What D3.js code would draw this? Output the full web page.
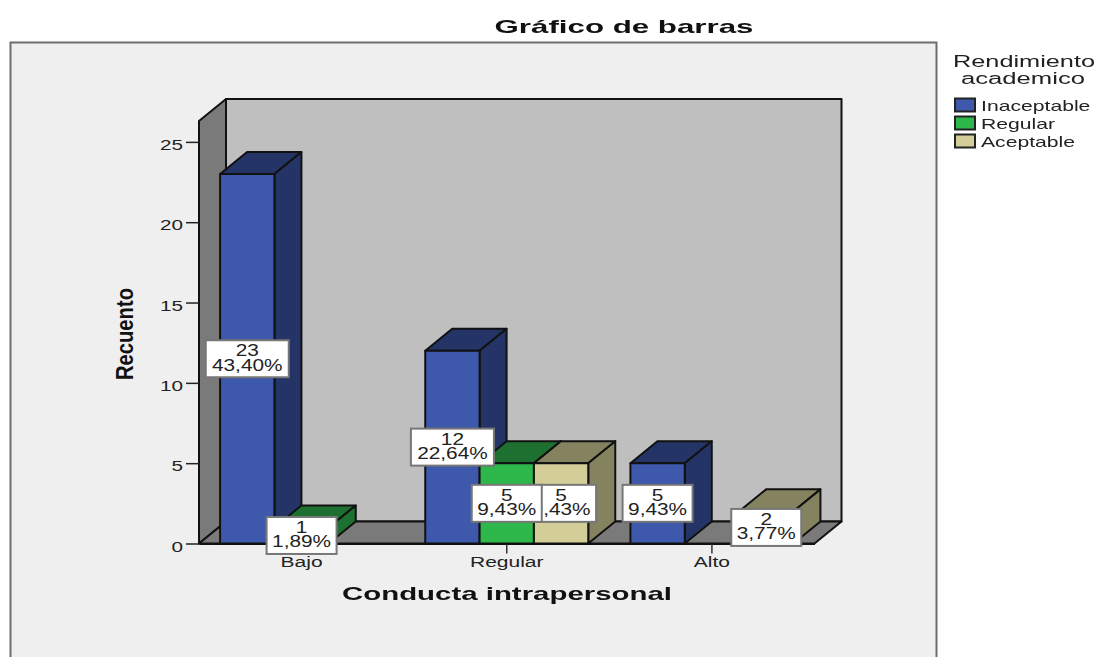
<!DOCTYPE html>
<html>
<head>
<meta charset="utf-8">
<script src="https://cdn.jsdelivr.net/npm/d3@7"></script>
<style>
  html, body { margin: 0; background: #fff; }
  svg { display: block; font-family: "Liberation Sans", Arial, sans-serif; fill: #1a1a1a; filter: blur(0.4px); }
</style>
</head>
<body>
<svg id="chart" width="1097" height="657"></svg>
<script>
const categories = ['Bajo', 'Regular', 'Alto'];
const seriesNames = ['Inaceptable', 'Regular', 'Aceptable'];
const inaceptable = [23, 12, 5];
const regular = [1, 5, null];
const aceptable = [null, 5, 2];
const inaceptablePct = ['43,40%', '22,64%', '9,43%'];
const regularPct = ['1,89%', '9,43%', null];
const aceptablePct = [null, '9,43%', '3,77%'];
const yTicks = [0, 5, 10, 15, 20, 25];

const colors = [
  { front: '#3e58ac', side: '#253466' },
  { front: '#2eb84b', side: '#1d7030' },
  { front: '#d3ce97', side: '#85825f' },
];

const depth = { x: 27, y: 22 };
const plot = { left: 199, right: 814.5, bottom: 543.5, top: 121 };

const svg = d3.select('#chart');

const rows = [
  { values: inaceptable, pct: inaceptablePct },
  { values: regular, pct: regularPct },
  { values: aceptable, pct: aceptablePct },
];

const x = d3.scaleBand().domain(categories).range([plot.left, plot.right]);
const xInner = d3.scaleBand().domain(d3.range(3)).range([x.bandwidth() / 2 - 81.5, x.bandwidth() / 2 + 81.5]);
const y = d3.scaleLinear().domain([0, 26.3]).range([plot.bottom, plot.top]);

const points = d3.merge(rows.map((row, s) =>
  categories.map((cat, c) => ({ cat, s, value: row.values[c], pct: row.pct[c] })).filter(d => d.value !== null)
));

// stretch text horizontally, the reference image is wider than it is tall
const stretch = (sel, k) =>
  sel.each(function() {
    const len = this.getComputedTextLength();
    d3.select(this).attr('textLength', len * k).attr('lengthAdjust', 'spacingAndGlyphs');
  });

const fitWidth = (sel, w) => sel.attr('textLength', w).attr('lengthAdjust', 'spacingAndGlyphs');

const pathOf = pts => 'M' + pts.map(p => p.join(',')).join('L') + 'Z';

const drawFrame = () => {
  svg.append('rect')
    .attr('x', 10.5).attr('y', 42.5).attr('width', 926).attr('height', 640)
    .attr('fill', '#efefef').attr('stroke', '#6e6e6e').attr('stroke-width', 2);
};

const drawWalls = () => {
  const { left, right, bottom, top } = plot;
  const back = svg.append('g').attr('stroke', '#111').attr('stroke-width', 2).attr('stroke-linejoin', 'round');
  back.append('path').attr('fill', '#bfbfbf').attr('d', pathOf([
    [left + depth.x, top - depth.y], [right + depth.x, top - depth.y],
    [right + depth.x, bottom - depth.y], [left + depth.x, bottom - depth.y],
  ]));
  back.append('path').attr('fill', '#7a7a7a').attr('d', pathOf([
    [left, top], [left + depth.x, top - depth.y], [left + depth.x, bottom - depth.y], [left, bottom],
  ]));
  back.append('path').attr('fill', '#7a7a7a').attr('d', pathOf([
    [left, bottom], [left + depth.x, bottom - depth.y], [right + depth.x, bottom - depth.y], [right, bottom],
  ]));
};

const drawAxes = () => {
  const yAxis = svg.append('g')
    .attr('transform', `translate(${plot.left},0)`)
    .call(d3.axisLeft(y).tickValues(yTicks).tickSize(13).tickPadding(3).tickSizeOuter(0));
  yAxis.select('.domain').remove();
  yAxis.selectAll('line').attr('stroke', '#222').attr('stroke-width', 1.5);
  yAxis.selectAll('text')
    .attr('font-family', 'inherit').attr('font-size', 15).attr('fill', '#222')
    .attr('dy', '0.5em')
    .call(stretch, 1.38);

  const xAxis = svg.append('g')
    .attr('transform', `translate(0,${plot.bottom})`)
    .call(d3.axisBottom(x).tickSize(10).tickPadding(4).tickSizeOuter(0));
  xAxis.select('.domain').attr('stroke', '#111').attr('stroke-width', 2);
  xAxis.selectAll('line').attr('stroke', '#333').attr('stroke-width', 1.5);
  xAxis.selectAll('text')
    .attr('font-family', 'inherit').attr('font-size', 14).attr('fill', '#222')
    .call(stretch, 1.5);
};

const drawBars = () => {
  const w = xInner.bandwidth();
  const bars = svg.append('g').attr('stroke', '#111').attr('stroke-width', 2).attr('stroke-linejoin', 'round')
    .selectAll('g')
    .data(points)
    .join('g');

  const x0 = d => x(d.cat) + xInner(d.s);

  bars.append('path').attr('fill', d => colors[d.s].side).attr('d', d => pathOf([
    [x0(d), y(d.value)], [x0(d) + depth.x, y(d.value) - depth.y],
    [x0(d) + w + depth.x, y(d.value) - depth.y], [x0(d) + w, y(d.value)],
  ]));
  bars.append('path').attr('fill', d => colors[d.s].side).attr('d', d => pathOf([
    [x0(d) + w, y(d.value)], [x0(d) + w + depth.x, y(d.value) - depth.y],
    [x0(d) + w + depth.x, y(0) - depth.y], [x0(d) + w, y(0)],
  ]));
  bars.append('rect')
    .attr('x', x0).attr('y', d => y(d.value))
    .attr('width', w).attr('height', d => y(0) - y(d.value))
    .attr('fill', d => colors[d.s].front);
};

const drawLabels = () => {
  const w = xInner.bandwidth();
  // last series first: the green boxes sit on top of the beige ones
  const labels = svg.append('g')
    .selectAll('g')
    .data(points.slice().sort((a, b) => b.s - a.s))
    .join('g')
    .attr('transform', d =>
      `translate(${x(d.cat) + xInner(d.s) + w / 2},${y(d.value / 2)})`);

  labels.append('rect')
    .attr('x', d => (d.pct.length > 5 ? -41.5 : -35))
    .attr('y', -18.5)
    .attr('width', d => (d.pct.length > 5 ? 83 : 70))
    .attr('height', 37)
    .attr('fill', '#fff').attr('stroke', '#777').attr('stroke-width', 2);

  labels.append('text')
    .attr('text-anchor', 'middle').attr('y', -2.5).attr('font-size', 16).attr('fill', '#222')
    .text(d => d.value)
    .call(stretch, 1.3);
  labels.append('text')
    .attr('text-anchor', 'middle').attr('y', 12).attr('font-size', 16).attr('fill', '#222')
    .text(d => d.pct)
    .call(stretch, 1.3);
};

const drawTitles = () => {
  svg.append('text')
    .attr('x', 624).attr('y', 33).attr('text-anchor', 'middle')
    .attr('font-size', 19).attr('font-weight', 'bold').attr('fill', '#111')
    .text('Gráfico de barras')
    .call(fitWidth, 259);

  svg.append('text')
    .attr('x', 507).attr('y', 600).attr('text-anchor', 'middle')
    .attr('font-size', 19).attr('font-weight', 'bold').attr('fill', '#111')
    .text('Conducta intrapersonal')
    .call(fitWidth, 330);

  svg.append('text')
    .attr('transform', 'translate(133,334) rotate(-90)').attr('text-anchor', 'middle')
    .attr('font-size', 23).attr('font-weight', 'bold').attr('fill', '#111')
    .text('Recuento')
    .call(fitWidth, 92);
};

const drawLegend = () => {
  svg.append('text')
    .attr('x', 1024).attr('y', 67).attr('text-anchor', 'middle').attr('font-size', 16).attr('fill', '#222')
    .text('Rendimiento')
    .call(fitWidth, 142);
  svg.append('text')
    .attr('x', 1023).attr('y', 84).attr('text-anchor', 'middle').attr('font-size', 16).attr('fill', '#222')
    .text('academico')
    .call(fitWidth, 124);

  const items = svg.append('g')
    .selectAll('g')
    .data(seriesNames)
    .join('g')
    .attr('transform', (d, i) => `translate(955,${98.5 + i * 18})`);

  items.append('rect')
    .attr('width', 20).attr('height', 13)
    .attr('fill', (d, i) => colors[i].front)
    .attr('stroke', '#222').attr('stroke-width', 2);

  items.append('text')
    .attr('x', 26).attr('y', 12).attr('font-size', 15).attr('fill', '#222')
    .text(d => d)
    .call(stretch, 1.41);
};

drawFrame();
drawWalls();
drawAxes();
drawBars();
drawLabels();
drawTitles();
drawLegend();
</script>
</body>
</html>
